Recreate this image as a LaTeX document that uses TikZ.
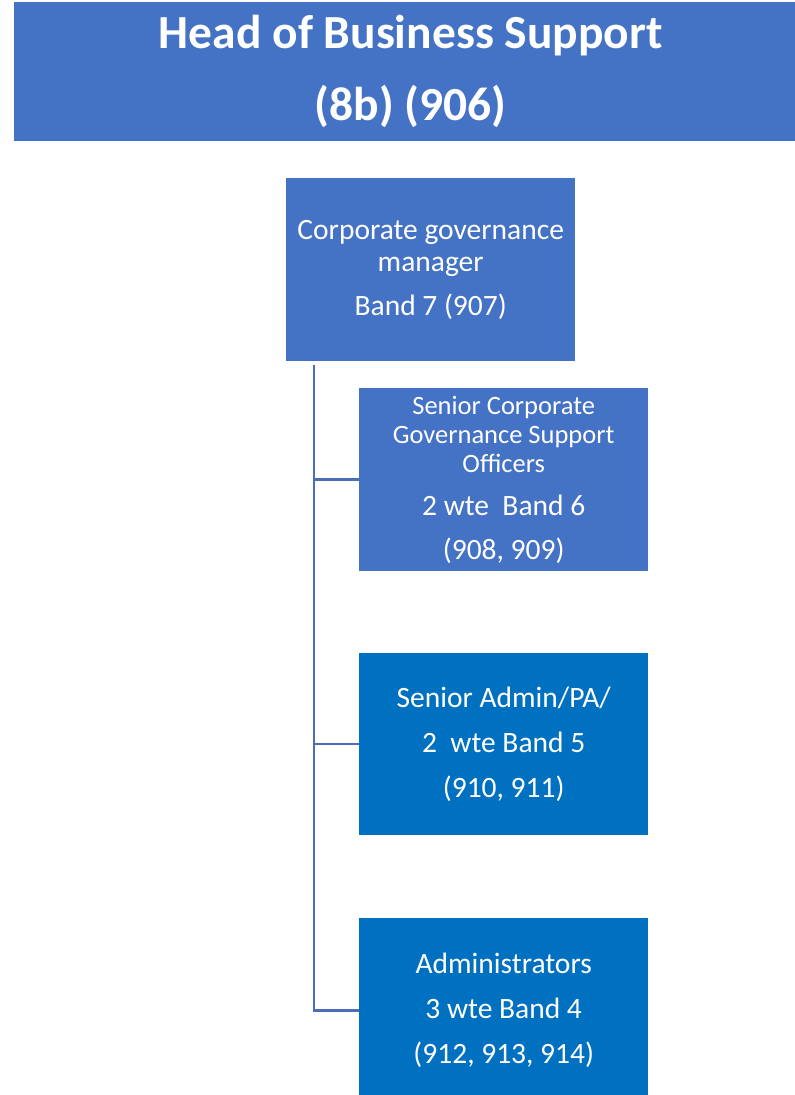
\documentclass[tikz,border=0pt]{standalone}
\usepackage{fontspec}
\setmainfont{Carlito}
\definecolor{hdrblue}{HTML}{4472C4}
\definecolor{darkblue}{HTML}{0070C0}
\definecolor{linkblue}{HTML}{4A6EB8}
\newcommand\smfont{\fontsize{26.5}{29}\selectfont}
\newcommand\lgfont{\fontsize{29.5}{32}\selectfont}
\begin{document}
\begin{tikzpicture}[x=1pt,y=-1pt,
  box/.style={draw=none, inner sep=0pt, align=center, text=white, anchor=north west, minimum width=289pt},
  conn/.style={draw=linkblue, line width=2.5pt}]
\useasboundingbox (0,0) rectangle (795,1095);
\node[box, fill=hdrblue, minimum width=781pt, minimum height=139pt,
      font=\bfseries\fontsize{47.5}{72}\selectfont] (head) at (14,2)
  {\hspace*{12pt}Head of Business Support\\\hspace*{12pt}(8b) (906)};
\node[box, fill=hdrblue, minimum height=183pt, font=\lgfont] (b1) at (286,178)
  {Corporate governance\\manager\\[12pt]Band 7 (907)};
\node[box, fill=hdrblue, minimum height=183pt, font=\lgfont] (b2) at (359,388)
  {\smfont Senior Corporate\\[-3pt]\smfont Governance Support\\[-3pt]\smfont Officers\\[11pt]\lgfont 2 wte\ \ Band 6\\[12pt]\lgfont (908, 909)};
\node[box, fill=darkblue, minimum height=182pt, font=\lgfont] (b3) at (359,653)
  {Senior Admin/PA/\\[13pt]2\ \ wte Band 5\\[13pt](910, 911)};
\node[box, fill=darkblue, minimum height=185pt, font=\lgfont] (b4) at (359,918)
  {Administrators\\[13pt]3 wte Band 4\\[13pt](912, 913, 914)};
\coordinate (trunk) at (314,365);
\draw[conn] (trunk) |- (b2.west);
\draw[conn] (trunk) |- (b3.west);
\draw[conn] (trunk) |- (b4.west);
\end{tikzpicture}
\end{document}
